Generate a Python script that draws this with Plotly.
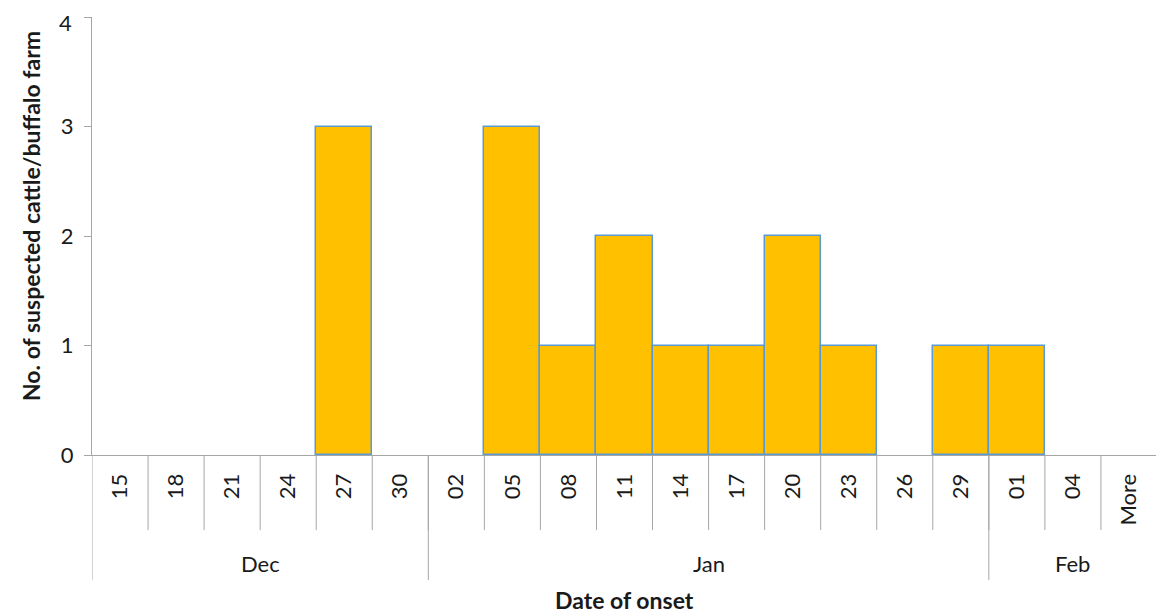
import plotly.graph_objects as go

days = ["15", "18", "21", "24", "27", "30", "02", "05", "08", "11", "14", "17",
        "20", "23", "26", "29", "01", "04", "More"]
counts = [0, 0, 0, 0, 3, 0, 0, 3, 1, 2, 1, 1, 2, 1, 0, 1, 1, 0, 0]
months = ["Dec", "Jan", "Feb"]
month_sizes = [6, 10, 3]
y_ticks = [0, 1, 2, 3, 4]

AX = "#A6A6A6"
TXT = "#1a1a1a"
FONT = "Lato"
FS = 22
FSB = 23

# page is rendered with an 8px body margin; work in page pixels and convert
OFF = 8
W, H = 1164 - OFF, 613 - OFF
left, right = 92 - OFF, 1157 - OFF
top, bottom = 17 - OFF, 455 - OFF
ph = bottom - top
pw = right - left

def py(pix):  # page pixel y -> paper y
    return (bottom - (pix - OFF)) / ph

def px(pix):  # page pixel x -> paper x
    return ((pix - OFF) - left) / pw

fig = go.Figure(go.Bar(
    x=days, y=counts,
    marker=dict(color="#FFC000",
                line=dict(color="#5B9BD5", width=[1.5 if c > 0 else 0 for c in counts])),
))

shapes = []
for i in range(1, len(days)):
    shapes.append(dict(type="line", xref="x", yref="paper", x0=i - 0.5, x1=i - 0.5,
                       y0=0, y1=py(530), line=dict(color=AX, width=1)))
edges = [-0.5]
for s in month_sizes:
    edges.append(edges[-1] + s)
for e in edges:
    shapes.append(dict(type="line", xref="x", yref="paper", x0=e, x1=e,
                       y0=0, y1=py(580), line=dict(color=AX, width=1)))

annotations = []
for m, a, b in zip(months, edges[:-1], edges[1:]):
    annotations.append(dict(x=(a + b) / 2, y=py(563), xref="x", yref="paper",
                            text=m, showarrow=False, yanchor="middle",
                            font=dict(size=FS, color=TXT, family=FONT)))
annotations.append(dict(x=px(624), y=py(600), xref="paper", yref="paper",
                        text="<b>Date of onset</b>", showarrow=False,
                        xanchor="center", yanchor="middle",
                        font=dict(size=FSB, color=TXT, family=FONT)))
annotations.append(dict(x=px(31), y=py(216), xref="paper", yref="paper",
                        xanchor="center", yanchor="middle",
                        text="<b>No. of suspected cattle/buffalo farm</b>", showarrow=False,
                        textangle=-90, font=dict(size=FSB, color=TXT, family=FONT)))
# top y tick label placed just inside the page so it is not clipped
annotations.append(dict(x=px(73), y=py(8), xref="paper", yref="paper",
                        xanchor="right", yanchor="top", text=str(y_ticks[-1]),
                        showarrow=False, borderpad=0,
                        font=dict(size=FS, color=TXT, family=FONT)))

fig.update_layout(
    width=W, height=H,
    margin=dict(l=left, r=W - right, t=top, b=H - bottom, autoexpand=False),
    paper_bgcolor="white", plot_bgcolor="white",
    bargap=0, showlegend=False,
    font=dict(family=FONT, color=TXT),
    shapes=shapes, annotations=annotations,
    xaxis=dict(type="category", categoryorder="array", categoryarray=days,
               range=[-0.5, len(days) - 0.5], tickangle=-90, ticks="",
               showline=True, linecolor=AX, linewidth=1, showgrid=False,
               ticklabelstandoff=9, automargin=False, ticklabeloverflow="allow",
               tickfont=dict(size=FS, color=TXT, family=FONT)),
    yaxis=dict(range=[0, 4], tickvals=y_ticks,
               ticktext=[str(v) for v in y_ticks[:-1]] + [""],
               ticks="outside", ticklen=7,
               tickcolor=AX, showline=True, linecolor=AX, linewidth=1,
               showgrid=False, zeroline=False, ticklabelstandoff=6, automargin=False,
               ticklabeloverflow="allow",
               tickfont=dict(size=FS, color=TXT, family=FONT)),
)

fig.write_html("out.html")
